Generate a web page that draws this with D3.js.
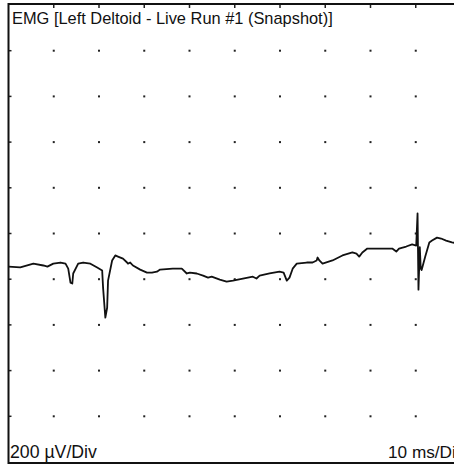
<!DOCTYPE html>
<html><head><meta charset="utf-8">
<script src="https://cdn.jsdelivr.net/npm/d3@7"></script>
<style>html,body{margin:0;padding:0;background:#fff;overflow:hidden}</style>
</head><body>
<svg id="c" width="454" height="466"></svg>
<script>
const title = "EMG [Left Deltoid - Live Run #1 (Snapshot)]";
const yScaleLabel = "200 \u00B5V/Div";
const xScaleLabel = "10 ms/Div";
const timeMs = [0,2.6,5.5,7.7,8.6,9.9,11.5,12.6,13.2,13.7,14.1,14.3,15.4,16.5,18.1,19.6,20.7,20.9,21.4,21.8,22.0,22.9,23.6,24.2,25.3,26.2,26.4,26.9,27.5,29.1,30.6,31.7,32.8,33.5,36.3,38.3,39.4,40.1,41.6,43.0,44.1,44.9,46.7,48.2,49.6,51.8,54.0,54.8,55.5,57.7,59.9,60.8,61.5,62.1,62.8,63.7,65.9,67.2,68.1,68.3,68.7,69.4,71.6,73.8,76.0,76.9,77.5,78.2,79.3,81.9,84.8,85.7,86.3,87.9,89.2,90.1,90.4,90.6,90.9,91.1,91.3,92.1,93.0,93.6,94.7,95.6,96.7,98.0,100];
const microV = [-145,-148,-132,-140,-145,-132,-127,-132,-154,-215,-219,-175,-132,-127,-132,-149,-162,-237,-368,-325,-206,-118,-96,-101,-110,-127,-132,-127,-140,-158,-171,-171,-167,-158,-154,-154,-175,-171,-175,-184,-193,-189,-202,-211,-206,-197,-189,-197,-184,-175,-167,-171,-206,-193,-154,-132,-127,-127,-118,-105,-118,-132,-118,-96,-83,-88,-101,-83,-66,-66,-66,-79,-66,-57,-48,-53,88,-246,-60,-153,-160,-101,-39,-31,-18,-22,-31,-39,-45];
const xDivs = d3.range(0, 101, 10);   // ms
const yDivs = d3.range(-1000, 1001, 200); // µV

const svg = d3.select("#c");
const x = d3.scaleLinear().domain([0,100]).range([8.5,461]);
const y = d3.scaleLinear().domain([-1000,1000]).range([462,5]);

svg.append("rect").attr("width",454).attr("height",466).attr("fill","#fff");

// grid dots
const innerX = xDivs.slice(1,-1), innerY = yDivs.slice(1,-1);
const dots = [];
innerX.forEach(a => innerY.forEach(b => dots.push([a,b])));
svg.append("g").selectAll("rect").data(dots).join("rect")
  .attr("x", d => x(d[0]) - 1).attr("y", d => y(d[1]) - 1)
  .attr("width", 2).attr("height", 2).attr("fill", "#222");

// border ticks
svg.append("g").selectAll("line").data(innerY).join("line")
  .attr("x1", x(0)).attr("x2", x(0)+3).attr("y1", d=>y(d)).attr("y2", d=>y(d))
  .attr("stroke","#222").attr("stroke-width",1.5);
svg.append("g").selectAll("line").data(innerX).join("line")
  .attr("y1", y(1000)).attr("y2", y(1000)+3).attr("x1", d=>x(d)).attr("x2", d=>x(d))
  .attr("stroke","#222").attr("stroke-width",1.5);

// frame
svg.append("rect").attr("x", x(0)).attr("y", 4).attr("width", x(100)-x(0)+6).attr("height", 463-4)
  .attr("fill","none").attr("stroke","#111").attr("stroke-width",2);

// trace
const line = d3.line().x((d,i)=>x(timeMs[i])).y(d=>y(d)).curve(d3.curveLinear);
svg.append("path").datum(microV).attr("d", line)
  .attr("fill","none").attr("stroke","#111").attr("stroke-width",1.8).attr("stroke-linejoin","round");

const font = "'Liberation Sans', Arial, sans-serif";
svg.append("text").attr("x",12).attr("y",24).attr("font-family",font).attr("font-size",16.4).attr("fill","#111").text(title);
svg.append("text").attr("x",10).attr("y",458).attr("font-family",font).attr("font-size",17.7).attr("fill","#111").text(yScaleLabel);
svg.append("text").attr("x",388).attr("y",458).attr("font-family",font).attr("font-size",17.2).attr("fill","#111").text(xScaleLabel);
</script>
</body></html>
